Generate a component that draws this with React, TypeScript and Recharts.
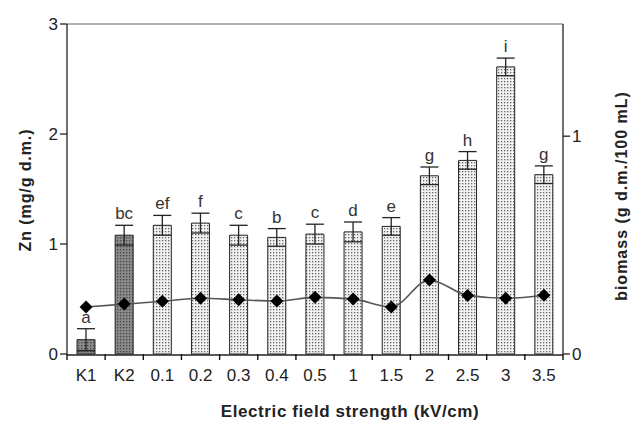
import { ComposedChart, Bar, Line, XAxis, YAxis, ErrorBar, LabelList, ReferenceLine, Cell } from 'recharts';

const categories = ['K1', 'K2', '0.1', '0.2', '0.3', '0.4', '0.5', '1', '1.5', '2', '2.5', '3', '3.5'];
const znValues = [0.13, 1.08, 1.17, 1.19, 1.08, 1.06, 1.09, 1.11, 1.16, 1.62, 1.76, 2.61, 1.63];
const znErrors = [0.1, 0.09, 0.09, 0.09, 0.09, 0.08, 0.09, 0.09, 0.08, 0.08, 0.08, 0.08, 0.08];
const letters = ['a', 'bc', 'ef', 'f', 'c', 'b', 'c', 'd', 'e', 'g', 'h', 'i', 'g'];
const biomass = [0.216, 0.229, 0.242, 0.256, 0.249, 0.243, 0.26, 0.252, 0.216, 0.34, 0.269, 0.256, 0.27];
const leftTicks = [0, 1, 2, 3];
const rightTicks = [0, 1];
// tick marks sit between the categories
const edgeTicks = [0, 1, 2, 3, 4, 5, 6, 7, 8, 9, 10, 11, 12, 13];

const W = 631;
const H = 421;
const LEFT_W = 67;
const RIGHT_W = 68;
const TOP = 24;
const BOTTOM = 66;
const FONT = 'Liberation Sans, Arial, sans-serif';

const data = categories.map((name, i) => ({
    name,
    pos: i + 0.5,
    zn: znValues[i],
    zerr: znErrors[i],
    letter: letters[i],
    bio: biomass[i],
}));

const Diamond = (props: any) => {
    const { cx, cy } = props;
    if (cx == null || cy == null) return null;
    const r = 6.5;
    return <polygon points={`${cx},${cy - r} ${cx + r},${cy} ${cx},${cy + r} ${cx - r},${cy}`} fill="#000" />;
};

const LetterLabel = (props: any) => {
    const { x, y, width, height, value, index } = props;
    const perUnit = height / znValues[index];
    const top = y - znErrors[index] * perUnit;
    return (
        <text x={x + width / 2} y={top - 6} textAnchor="middle" fontSize={17} fill="#333" fontFamily={FONT}>{value}</text>
    );
};

const AxisTitle = ({ viewBox, text, cx, dy, angle, spacing }: any) => {
    const cy = viewBox.y + viewBox.height / 2 + dy;
    return (
        <text x={cx} y={cy} transform={`rotate(${angle}, ${cx}, ${cy})`} textAnchor="middle" dominantBaseline="central"
            fontSize={16} fontWeight="bold" fill="#222" fontFamily={FONT} letterSpacing={spacing}>{text}</text>
    );
};

const App = () => {
    return (
        <div style={{ position: 'absolute', left: 0, top: 0, width: W, height: H, background: '#fff' }}>
            <ComposedChart width={W} height={H} data={data} margin={{ top: TOP, right: 0, left: 0, bottom: 0 }} barCategoryGap={0}>
                <defs>
                    <pattern id="dotsLight" width="3" height="3" patternUnits="userSpaceOnUse">
                        <rect width="3" height="3" fill="#f2f2f2" />
                        <rect width="1.3" height="1.3" fill="#666" />
                    </pattern>
                    <pattern id="dotsDark" width="3" height="3" patternUnits="userSpaceOnUse">
                        <rect width="3" height="3" fill="#8a8a8a" />
                        <rect width="1.3" height="1.3" fill="#444" />
                    </pattern>
                </defs>
                <XAxis
                    xAxisId="cat"
                    dataKey="name"
                    height={BOTTOM}
                    axisLine={{ stroke: '#222', strokeWidth: 1.3 }}
                    tickLine={false}
                    tick={{ fontSize: 17, fill: '#222', fontFamily: FONT, dy: 6 }}
                    interval={0}
                    label={{ value: 'Electric field strength  (kV/cm)', position: 'insideBottom', offset: 4, fontSize: 17, fontWeight: 'bold', fill: '#222', fontFamily: FONT, dx: 35, letterSpacing: 0.6, style: { whiteSpace: 'pre' } }}
                />
                <XAxis
                    xAxisId="aedge"
                    dataKey="pos"
                    type="number"
                    domain={[0, 13]}
                    ticks={edgeTicks}
                    interval={0}
                    height={1}
                    axisLine={false}
                    tickLine={{ stroke: '#111', strokeWidth: 1.4 }}
                    tickSize={6}
                    tickFormatter={() => ''}
                />
                <YAxis
                    yAxisId="left"
                    width={LEFT_W}
                    domain={[0, 3]}
                    ticks={leftTicks}
                    axisLine={{ stroke: '#222', strokeWidth: 1.3 }}
                    tickLine={{ stroke: '#222', strokeWidth: 1.3 }}
                    tickSize={7}
                    tick={{ fontSize: 17, fill: '#222', fontFamily: FONT }}
                    label={{ content: (p: any) => <AxisTitle {...p} text="Zn (mg/g d.m.)" cx={25} dy={1} angle={-90} spacing={0.9} /> }}
                />
                <YAxis
                    yAxisId="right"
                    orientation="right"
                    width={RIGHT_W}
                    domain={[0, 1.515]}
                    ticks={rightTicks}
                    axisLine={{ stroke: '#222', strokeWidth: 1.3 }}
                    tickLine={{ stroke: '#222', strokeWidth: 1.3 }}
                    tickSize={7}
                    tick={{ fontSize: 17, fill: '#222', fontFamily: FONT }}
                    label={{ content: (p: any) => <AxisTitle {...p} text="biomass (g d.m./100 mL)" cx={621} dy={7} angle={-90} spacing={1} /> }}
                />
                <ReferenceLine xAxisId="cat" yAxisId="left" y={3} stroke="#999" strokeWidth={1.5} />
                <Bar xAxisId="cat" yAxisId="left" dataKey="zn" barSize={18} stroke="#222" strokeWidth={1} isAnimationActive={false}>
                    {data.map((d, i) => (
                        <Cell key={d.name} fill={i < 2 ? 'url(#dotsDark)' : 'url(#dotsLight)'} />
                    ))}
                    <ErrorBar dataKey="zerr" width={9} stroke="#222" strokeWidth={1.3} />
                    <LabelList dataKey="letter" content={<LetterLabel />} />
                </Bar>
                <Line
                    xAxisId="cat"
                    yAxisId="right"
                    type="monotone"
                    dataKey="bio"
                    stroke="#555"
                    strokeWidth={1.6}
                    dot={<Diamond />}
                    activeDot={false}
                    isAnimationActive={false}
                />
            </ComposedChart>
        </div>
    );
};

export default App;
